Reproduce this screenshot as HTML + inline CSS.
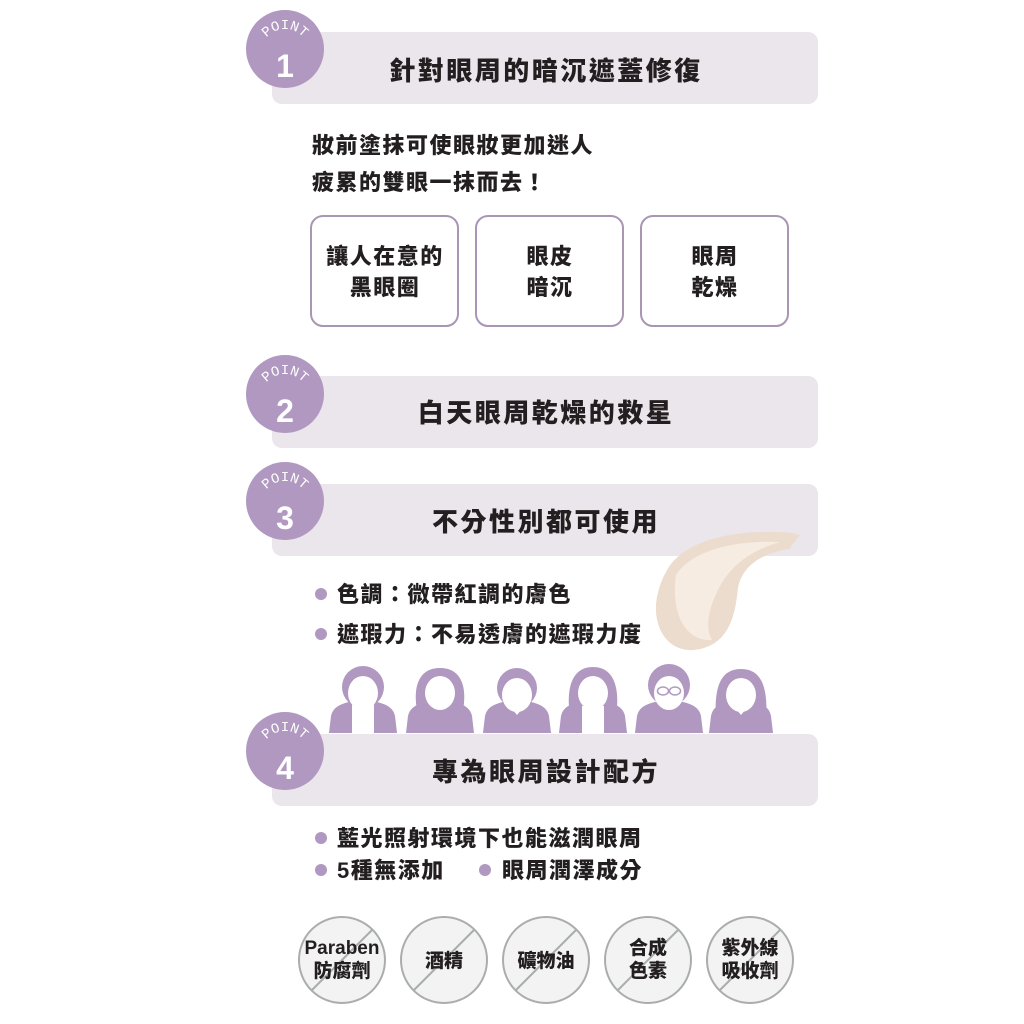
<!DOCTYPE html>
<html><head><meta charset="utf-8"><style>
html,body{margin:0;padding:0;background:#fff;}
svg{display:block}
text{font-family:"Liberation Sans","Noto Sans CJK TC",sans-serif;font-weight:900;fill:#231f20}
.t{font-size:26px;letter-spacing:2.5px}
.b{font-size:22px;letter-spacing:1.5px}
.p{font-family:"Liberation Mono","Noto Sans CJK TC",monospace;font-size:14px;fill:#fff;font-weight:normal;letter-spacing:0px}
.n{font-size:32px;fill:#fff}
.s{font-size:19px}
</style></head><body>
<svg width="1024" height="1024" viewBox="0 0 1024 1024" xmlns="http://www.w3.org/2000/svg">
<defs>
<path id="arc" d="M261,52 A24,24 0 0 1 309,52"/>
<g id="pt">
<circle cx="0" cy="0" r="39" fill="#b098c0"/>
<text class="p" transform="translate(-285,-48)"><textPath href="#arc" startOffset="50%" text-anchor="middle">POINT</textPath></text>
</g>
</defs>

<rect x="272" y="32" width="546" height="72" rx="10" fill="#ebe5ec"/>
<use href="#pt" x="285" y="49"/>
<text class="n" x="285" y="77" text-anchor="middle">1</text>
<text class="t" x="546" y="80" text-anchor="middle">針對眼周的暗沉遮蓋修復</text>

<text class="b" x="312" y="153">妝前塗抹可使眼妝更加迷人</text>
<text class="b" x="312" y="190">疲累的雙眼一抹而去！</text>

<g fill="#fff" stroke="#a996b5" stroke-width="2">
<rect x="311" y="216" width="147" height="110" rx="12"/>
<rect x="476" y="216" width="147" height="110" rx="12"/>
<rect x="641" y="216" width="147" height="110" rx="12"/>
</g>
<text class="b" x="385" y="264" text-anchor="middle">讓人在意的</text>
<text class="b" x="385" y="295" text-anchor="middle">黑眼圈</text>
<text class="b" x="550" y="264" text-anchor="middle">眼皮</text>
<text class="b" x="550" y="295" text-anchor="middle">暗沉</text>
<text class="b" x="715" y="264" text-anchor="middle">眼周</text>
<text class="b" x="715" y="295" text-anchor="middle">乾燥</text>

<rect x="272" y="376" width="546" height="72" rx="10" fill="#ebe5ec"/>
<use href="#pt" x="285" y="394"/>
<text class="n" x="285" y="422" text-anchor="middle">2</text>
<text class="t" x="546" y="422" text-anchor="middle">白天眼周乾燥的救星</text>

<rect x="272" y="484" width="546" height="72" rx="10" fill="#ebe5ec"/>
<use href="#pt" x="285" y="501"/>
<text class="n" x="285" y="529" text-anchor="middle">3</text>
<text class="t" x="546" y="531" text-anchor="middle">不分性別都可使用</text>

<!-- cream -->
<path d="M666,572 C682,540 735,528 792,533 L800,535 L789,549 C762,553 742,566 738,588 C735,618 728,646 694,650 C664,652 652,622 657,597 C659,587 662,579 666,572 Z" fill="#ecdccd"/>
<path d="M676,575 C692,550 735,540 780,542 C752,550 730,565 718,590 C708,610 705,628 712,640 C690,642 670,620 676,575 Z" fill="#f6ece2"/>

<circle cx="321" cy="594" r="6" fill="#b098c0"/>
<text class="b" x="337" y="602">色調：微帶紅調的膚色</text>
<circle cx="321" cy="634" r="6" fill="#b098c0"/>
<text class="b" x="337" y="642">遮瑕力：不易透膚的遮瑕力度</text>

<g transform="translate(363,0)">
<path d="M-34,733 L-32,716 C-30,706 -20,703 -9,701 L9,701 C20,703 30,706 32,716 L34,733 Z" fill="#b098c0"/>
<rect x="-11" y="705" width="22" height="28" fill="#fff"/>
<circle cx="0" cy="687" r="21" fill="#b098c0"/>
<ellipse cx="0" cy="693" rx="15" ry="17" fill="#fff"/>
</g>
<g transform="translate(440,0)">
<path d="M-34,733 L-32,716 C-30,706 -20,703 -9,701 L9,701 C20,703 30,706 32,716 L34,733 Z" fill="#b098c0"/>
<path d="M-23,710 C-27,688 -22,668 0,668 C22,668 27,688 23,710 Z" fill="#b098c0"/>
<ellipse cx="0" cy="693" rx="15" ry="17" fill="#fff"/>
</g>
<g transform="translate(517,0)">
<path d="M-34,733 L-32,716 C-30,706 -20,703 -9,701 L9,701 C20,703 30,706 32,716 L34,733 Z" fill="#b098c0"/>
<path d="M-9,704 L0,715 L9,704 Z" fill="#fff"/>
<circle cx="0" cy="688" r="20" fill="#b098c0"/>
<ellipse cx="0" cy="695" rx="15" ry="17" fill="#fff"/>
</g>
<g transform="translate(593,0)">
<path d="M-34,733 L-32,716 C-30,706 -20,703 -9,701 L9,701 C20,703 30,706 32,716 L34,733 Z" fill="#b098c0"/>
<path d="M-23,716 C-27,690 -22,667 0,667 C22,667 27,690 23,716 Z" fill="#b098c0"/>
<rect x="-11" y="706" width="22" height="27" fill="#fff"/>
<ellipse cx="0" cy="693" rx="15" ry="17" fill="#fff"/>
</g>
<g transform="translate(669,0)">
<path d="M-34,733 L-32,716 C-30,706 -20,703 -9,701 L9,701 C20,703 30,706 32,716 L34,733 Z" fill="#b098c0"/>
<circle cx="0" cy="685" r="21" fill="#b098c0"/>
<ellipse cx="0" cy="693" rx="15" ry="17" fill="#fff"/>
<ellipse cx="-6" cy="691" rx="5.5" ry="4" fill="none" stroke="#b098c0" stroke-width="1.5"/>
<ellipse cx="6" cy="691" rx="5.5" ry="4" fill="none" stroke="#b098c0" stroke-width="1.5"/>
</g>
<g transform="translate(741,0)">
<path d="M-32,733 L-30,716 C-28,706 -20,703 -9,701 L9,701 C20,703 28,706 30,716 L32,733 Z" fill="#b098c0"/>
<path d="M-25,720 C-27,690 -22,669 0,669 C22,669 27,690 25,720 Z" fill="#b098c0"/>
<path d="M-9,704 L0,715 L9,704 Z" fill="#fff"/>
<ellipse cx="0" cy="695" rx="15" ry="17" fill="#fff"/>
</g>

<rect x="272" y="734" width="546" height="72" rx="10" fill="#ebe5ec"/>
<use href="#pt" x="285" y="751"/>
<text class="n" x="285" y="779" text-anchor="middle">4</text>
<text class="t" x="546" y="781" text-anchor="middle">專為眼周設計配方</text>

<circle cx="321" cy="838" r="6" fill="#b098c0"/>
<text class="b" x="337" y="846">藍光照射環境下也能滋潤眼周</text>
<circle cx="321" cy="870" r="6" fill="#b098c0"/>
<text class="b" x="337" y="878">5種無添加</text>
<circle cx="485" cy="870" r="6" fill="#b098c0"/>
<text class="b" x="502" y="878">眼周潤澤成分</text>

<g fill="#f2f3f2" stroke="#aaaeab" stroke-width="2">
<circle cx="342" cy="960" r="43"/><circle cx="444" cy="960" r="43"/><circle cx="546" cy="960" r="43"/><circle cx="648" cy="960" r="43"/><circle cx="750" cy="960" r="43"/>
</g>
<g stroke="#aaaeab" stroke-width="2">
<line x1="312" y1="990" x2="372" y2="930"/><line x1="414" y1="990" x2="474" y2="930"/><line x1="516" y1="990" x2="576" y2="930"/><line x1="618" y1="990" x2="678" y2="930"/><line x1="720" y1="990" x2="780" y2="930"/>
</g>
<text class="s" x="342" y="954" text-anchor="middle">Paraben</text>
<text class="s" x="342" y="977" text-anchor="middle">防腐劑</text>
<text class="s" x="444" y="967" text-anchor="middle">酒精</text>
<text class="s" x="546" y="967" text-anchor="middle">礦物油</text>
<text class="s" x="648" y="954" text-anchor="middle">合成</text>
<text class="s" x="648" y="977" text-anchor="middle">色素</text>
<text class="s" x="750" y="954" text-anchor="middle">紫外線</text>
<text class="s" x="750" y="977" text-anchor="middle">吸收劑</text>
</svg>
</body></html>
